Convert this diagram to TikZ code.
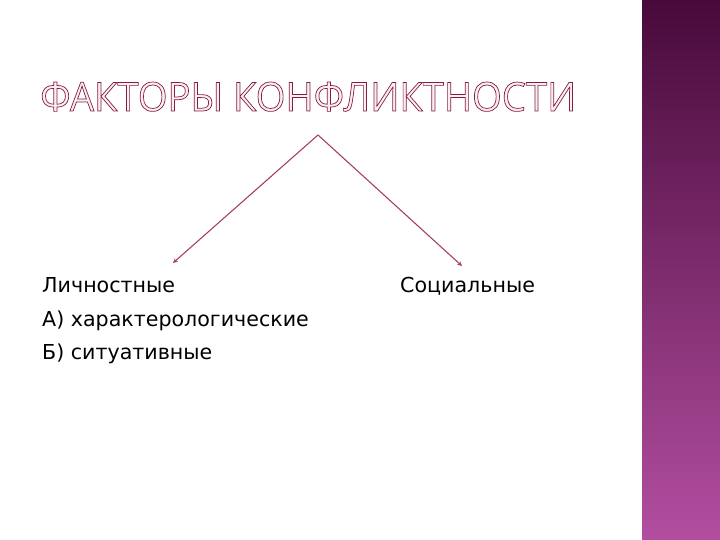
\documentclass[tikz,border=0pt]{standalone}
\usepackage{fontspec}
\setmainfont{DejaVu Sans}
\newfontfamily\titlefont[FakeStretch=0.955]{Open Sans}
\usetikzlibrary{positioning}
\definecolor{linered}{RGB}{165,65,95}
\definecolor{bartop}{RGB}{72,10,58}
\definecolor{barbot}{RGB}{178,78,160}
\tikzset{label text/.style={anchor=base west,inner sep=0pt,font=\fontsize{20.6}{24}\selectfont},
  branch/.style={linered,line width=1.1pt,-stealth}}
\newcommand{\outlined}[1]{\special{pdf:literal direct 0.99 0.93 0.96 rg 0.5 0.12 0.25 RG 0.7 w 2 Tr}#1\special{pdf:literal direct 0 Tr 0 g 0 G}}

\begin{document}
\begin{tikzpicture}[x=1pt,y=-1pt]
\useasboundingbox (0,0) rectangle (720,540);
\shade[top color=bartop,bottom color=barbot] (642,0) rectangle (720,540);
\node[anchor=base west,inner sep=0pt,font=\titlefont\fontsize{40}{48}\selectfont] (title) at (40,111) {\outlined{ФАКТОРЫ КОНФЛИКТНОСТИ}};
\coordinate (top) at (318,135);
\coordinate (lefttip) at (173,263);
\coordinate (righttip) at (462,266);
\node[label text] (pers) at (42,292) {Личностные};
\node[label text] (charact) at (42,326) {А) характерологические};
\node[label text] (situat) at (42,359) {Б) ситуативные};
\node[label text] (social) at (400,292) {Социальные};
\draw[branch] (top) -- (lefttip);
\draw[branch] (top) -- (righttip);
\end{tikzpicture}
\end{document}
